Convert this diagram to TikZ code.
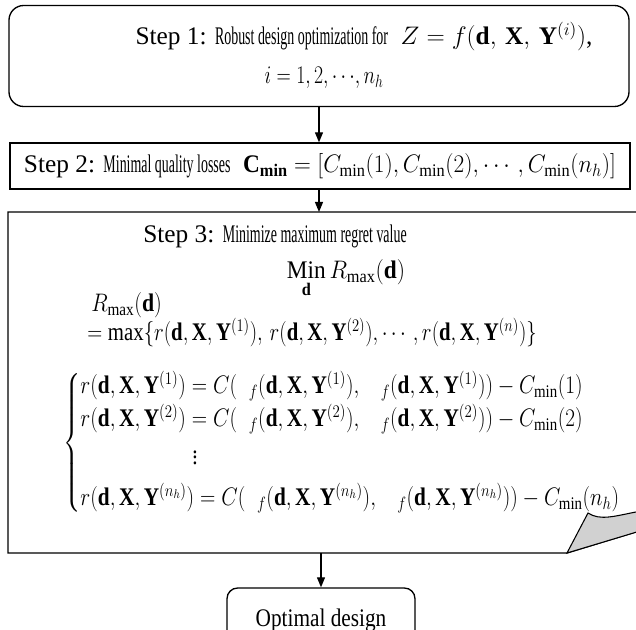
\RequirePackage{fix-cm}
\documentclass[tikz,border=0pt]{standalone}
\usepackage{fontspec}
\setmainfont{Liberation Serif}
\usepackage{amsmath}
\usepackage{graphicx}
\usetikzlibrary{arrows.meta}
\newcommand{\narrowtext}[1]{\scalebox{0.55}[1]{#1}}
\newcommand{\dXY}[1]{(\mathbf{d},\mathbf{X},\mathbf{Y}^{(#1)})}
\newcommand{\regretrow}[2]{r\dXY{#1}=C(\;\;{}_{f}\dXY{#1},\;\;\;{}_{f}\dXY{#1})-C_{\min}(#2)}

\begin{document}
\begin{tikzpicture}[x=0.75pt,y=0.75pt,yscale=-1,xscale=1,
  stepbox/.style={draw,line width=1pt,inner sep=0pt},
  flow/.style={-{Triangle[length=7.5pt,width=6pt]},line width=0.9pt},
  lbl/.style={inner sep=0.75pt,font=\fontsize{19}{23}\selectfont}]
\useasboundingbox (0,0) rectangle (636,630);
\clip (0,0) rectangle (636,630);

%Shape: Rounded Rect (step 1)
\node[stepbox,rounded corners=11pt,minimum width=465pt,minimum height=75.75pt] (step1) at (319,56) {};
%Shape: Rectangle (step 2)
\node[stepbox,minimum width=465pt,minimum height=34.5pt] (step2) at (320,166) {};
%Shape: Document (step 3)
\draw[line width=1pt] (8,212) -- (760,212) -- (760,494) -- (567,553) -- (8,553) -- cycle;
\draw[line width=0.8pt,fill=black!18] (567,553) -- (588,513) .. controls (600,521) and (615,516) .. (636,512) -- (660,508) -- (660,525) -- cycle;
\coordinate (s3top) at (319,212);
\coordinate (s3bot) at (321,553);
%Shape: Rounded Rect (result)
\node[lbl,stepbox,rounded corners=8pt,minimum width=141pt,minimum height=48pt] (opt) at (321,620) {\scalebox{0.84}[1]{Optimal design}};

%Straight Lines
\draw[flow] (step1.south) -- (step1.south |- step2.north);
\draw[flow] (step2.south -| s3top) -- (s3top);
\draw[flow] (s3bot) -- (s3bot |- opt.north);

% Text Node
\node[lbl,anchor=base] (s1a) at (364,45) {Step 1: \narrowtext{Robust design optimization for}\ \ $Z=f(\mathbf{d},\,\mathbf{X},\,\mathbf{Y}^{(i)})$,};
% Text Node
\node[lbl,anchor=base] (s1b) at (324,84) {\scalebox{0.78}[1]{$i=1,2,\cdots\!,n_{h}$}};
% Text Node
\node[lbl,anchor=base] (s2) at (320,173) {Step 2: \narrowtext{Minimal quality losses}\ \ \scalebox{0.92}[1]{$\mathbf{C}_{\mathbf{min}}=[C_{\min}(1),C_{\min}(2),\cdots,C_{\min}(n_{h})]$}};
% Text Node
\node[lbl,anchor=base] (s3) at (275,243) {Step 3: \narrowtext{Minimize maximum regret value}};
% Text Node
\node[lbl,anchor=base] (minr) at (346,279) {\scalebox{0.92}[1]{$\mathop{\mathrm{Min}}\limits_{\mathbf{d}} R_{\max}(\mathbf{d})$}};
% Text Node
\node[lbl,anchor=base west] (rmax) at (90,312) {\scalebox{0.86}[1]{$R_{\max}(\mathbf{d})$}};
% Text Node
\node[lbl,anchor=base west] (maxr) at (86,341) {\scalebox{0.82}[1]{$=\max\{r\dXY{1},\,r\dXY{2},\cdots,r\dXY{n}\}$}};
% Text Node
\node[lbl,anchor=west] (regret) at (62,443) {\scalebox{0.84}[1]{$\left\{\begin{array}{@{}l@{}}
\regretrow{1}{1}\\[1pt]
\regretrow{2}{2}\\[5pt]
\hspace*{100pt}\vdots\\[7pt]
\regretrow{n_{h}}{n_{h}}
\end{array}\right.$}};

\end{tikzpicture}
\end{document}
